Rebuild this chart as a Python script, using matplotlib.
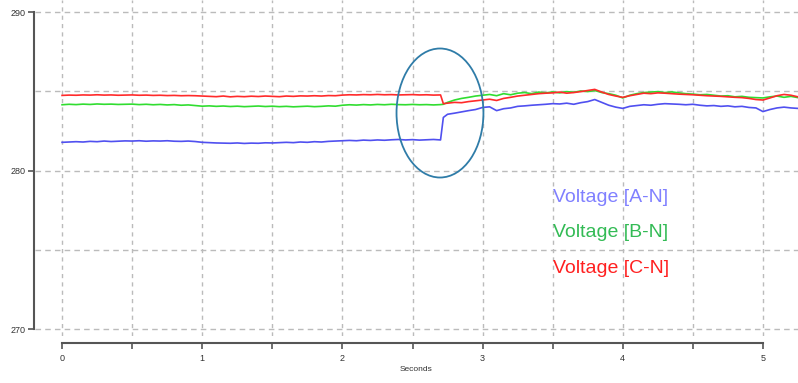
import matplotlib
matplotlib.use("Agg")
import matplotlib.pyplot as plt
from matplotlib.patches import Ellipse

plt.rcParams["font.family"] = ["Liberation Sans", "DejaVu Sans"]

# sample times (seconds)
seconds = [
    0.00, 0.05, 0.10, 0.15, 0.20, 0.25, 0.30, 0.35, 0.40, 0.45,
    0.50, 0.55, 0.60, 0.65, 0.70, 0.75, 0.80, 0.85, 0.90, 0.95,
    1.00, 1.05, 1.10, 1.15, 1.20, 1.25, 1.30, 1.35, 1.40, 1.45,
    1.50, 1.55, 1.60, 1.65, 1.70, 1.75, 1.80, 1.85, 1.90, 1.95,
    2.00, 2.05, 2.10, 2.15, 2.20, 2.25, 2.30, 2.35, 2.40, 2.45,
    2.50, 2.55, 2.60, 2.65, 2.70,
    2.72,
    2.75, 2.80, 2.85, 2.90, 2.95,
    3.00, 3.05, 3.10, 3.15, 3.20, 3.25, 3.30, 3.35, 3.40, 3.45,
    3.50, 3.55, 3.60, 3.65, 3.70, 3.75, 3.80, 3.85, 3.90, 3.95,
    4.00, 4.05, 4.10, 4.15, 4.20, 4.25, 4.30, 4.35, 4.40, 4.45,
    4.50, 4.55, 4.60, 4.65, 4.70, 4.75, 4.80, 4.85, 4.90, 4.95,
    5.00, 5.05, 5.10, 5.15, 5.20, 5.25,
]

volt_an = [
    281.78, 281.80, 281.82, 281.80, 281.84, 281.82, 281.86, 281.83, 281.85, 281.87,
    281.86, 281.88, 281.85, 281.87, 281.86, 281.88, 281.85, 281.84, 281.86, 281.83,
    281.78, 281.76, 281.74, 281.73, 281.72, 281.74, 281.71, 281.73, 281.72, 281.75,
    281.74, 281.76, 281.78, 281.76, 281.80, 281.78, 281.82, 281.80, 281.84, 281.86,
    281.88, 281.90, 281.88, 281.92, 281.90, 281.93, 281.91, 281.94, 281.96, 281.93,
    281.95, 281.92, 281.94, 281.96, 281.93,
    283.35,
    283.55, 283.62, 283.70, 283.78, 283.85,
    283.98, 284.02, 283.78, 283.90, 283.95, 284.05, 284.08, 284.12, 284.15, 284.18,
    284.22, 284.20, 284.25, 284.18, 284.28, 284.35, 284.48, 284.30, 284.12, 284.00,
    283.92, 284.05, 284.10, 284.15, 284.12, 284.18, 284.22, 284.20, 284.18, 284.15,
    284.18, 284.12, 284.08, 284.10, 284.05, 284.08, 284.02, 284.05, 283.98, 283.95,
    283.72, 283.85, 283.95, 284.00, 283.95, 283.92,
]

volt_bn = [
    284.15, 284.18, 284.16, 284.19, 284.17, 284.20, 284.18, 284.19, 284.17, 284.18,
    284.19, 284.16, 284.18, 284.15, 284.17, 284.14, 284.16, 284.12, 284.14, 284.10,
    284.06, 284.08, 284.05, 284.07, 284.04, 284.06, 284.03, 284.05, 284.07, 284.04,
    284.06, 284.03, 284.05, 284.02, 284.04, 284.06, 284.03, 284.05, 284.08, 284.06,
    284.12, 284.15, 284.13, 284.16, 284.14, 284.17, 284.15, 284.18, 284.16, 284.15,
    284.17, 284.15, 284.16, 284.14, 284.16,
    284.18,
    284.30, 284.45, 284.55, 284.62, 284.70,
    284.75, 284.80, 284.72, 284.85, 284.78, 284.88, 284.92, 284.85, 284.95, 284.90,
    284.96, 284.90, 284.98, 284.94, 285.02, 284.98, 285.05, 284.92, 284.85, 284.75,
    284.58, 284.75, 284.85, 284.92, 284.95, 284.98, 284.92, 284.96, 284.90, 284.85,
    284.82, 284.78, 284.80, 284.75, 284.70, 284.72, 284.65, 284.68, 284.62, 284.60,
    284.58, 284.65, 284.70, 284.62, 284.68, 284.60,
]

volt_cn = [
    284.74, 284.76, 284.75, 284.77, 284.76, 284.78, 284.76, 284.77, 284.75, 284.76,
    284.77, 284.75, 284.76, 284.74, 284.75, 284.73, 284.74, 284.72, 284.73, 284.72,
    284.70, 284.68, 284.66, 284.70, 284.65, 284.68, 284.66, 284.69, 284.67, 284.70,
    284.68, 284.66, 284.70, 284.68, 284.71, 284.70, 284.72, 284.70, 284.73, 284.72,
    284.76, 284.78, 284.77, 284.79, 284.78, 284.80, 284.78, 284.79, 284.77, 284.78,
    284.79, 284.77, 284.78, 284.76, 284.77,
    284.22,
    284.25, 284.30, 284.28, 284.35, 284.40,
    284.45, 284.50, 284.42, 284.55, 284.62, 284.70, 284.75, 284.80, 284.85, 284.88,
    284.90, 284.95, 284.88, 284.92, 284.98, 285.05, 285.12, 284.95, 284.80, 284.70,
    284.62, 284.72, 284.80, 284.88, 284.85, 284.90, 284.88, 284.85, 284.82, 284.80,
    284.78, 284.75, 284.72, 284.70, 284.68, 284.65, 284.62, 284.60, 284.55, 284.48,
    284.45, 284.58, 284.72, 284.80, 284.75, 284.65,
]

series_labels = ["Voltage [A-N]", "Voltage [B-N]", "Voltage [C-N]"]
line_colors = ["#5050f0", "#30dd30", "#ff2a2a"]
text_colors = ["#8080ff", "#33bb55", "#ff2020"]

x_ticks = [0, 0.5, 1, 1.5, 2, 2.5, 3, 3.5, 4, 4.5, 5]
x_ticklabels = ["0", "", "1", "", "2", "", "3", "", "4", "", "5"]
y_ticks = [270, 280, 290]
y_grid = [270, 275, 280, 285, 290]


def main():
    fig = plt.figure(figsize=(7.98, 3.83), dpi=100)
    ax = fig.add_axes([35 / 798, 1 - 336 / 383, 1 - 35 / 798, 336 / 383])

    for vals, col in zip([volt_an, volt_bn, volt_cn], line_colors):
        ax.plot(seconds, vals, color=col, lw=1.2)

    ax.set_xlim(-0.193, 5.25)
    ax.set_ylim(269.56, 290.76)

    # grid
    for y in y_grid:
        ax.axhline(y, color="#bbbbbb", lw=1.0, ls=(0, (4, 3)), zorder=0)
    for x in x_ticks:
        ax.axvline(x, color="#bbbbbb", lw=1.0, ls=(0, (3, 3)), zorder=0)

    # detached R-style axes
    for s in ["top", "right"]:
        ax.spines[s].set_visible(False)
    ax.spines["left"].set_position(("outward", 1))
    ax.spines["left"].set_bounds(270, 290)
    ax.spines["bottom"].set_position(("outward", 5))
    ax.spines["bottom"].set_bounds(0, 5)
    for s in ["left", "bottom"]:
        ax.spines[s].set_color("#555555")
        ax.spines[s].set_linewidth(1.5)

    ax.set_yticks(y_ticks)
    ax.set_xticks(x_ticks)
    ax.set_xticklabels(x_ticklabels)
    ax.tick_params(axis="both", colors="#555555", labelcolor="#333333",
                   labelsize=6.5, length=4, width=1.2)
    ax.tick_params(axis="y", pad=2)
    ax.tick_params(axis="x", pad=4)
    ax.set_xlabel("Seconds", fontsize=6, color="#333333", labelpad=2)

    # highlight circle
    ax.add_patch(Ellipse((2.696, 283.63), 0.62, 8.14, fill=False,
                         edgecolor="#2f7ca8", lw=1.3, zorder=5))

    for lab, col, y in zip(series_labels, text_colors, [278.33, 276.06, 273.85]):
        ax.text(3.50, y, lab, color=col, fontsize=14, va="center", ha="left")

    fig.savefig("out.png", dpi=100)
    plt.close(fig)


if __name__ == "__main__":
    main()
